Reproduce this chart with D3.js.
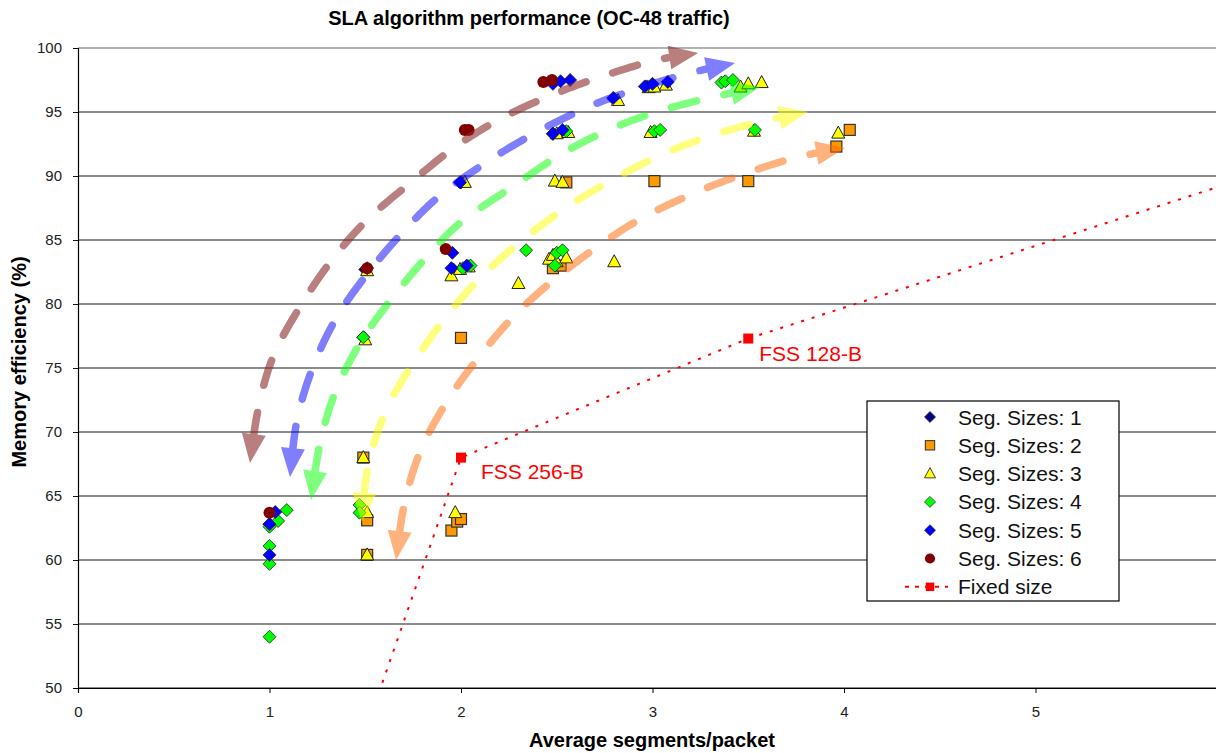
<html>
<head>
<meta charset="utf-8">
<style>
  body { margin: 0; background: #fff; }
  text { font-family: "Liberation Sans", Arial, sans-serif; }
</style>
</head>
<body>
<svg width="1216" height="753"></svg>
<script src="https://d3js.org/d3.v7.min.js"></script>
<script>
// series: [avg segments/packet, memory efficiency %]
var seriesNames = ["Seg. Sizes: 1", "Seg. Sizes: 2", "Seg. Sizes: 3", "Seg. Sizes: 4", "Seg. Sizes: 5", "Seg. Sizes: 6"]
var seg1 = [[1.0,62.8],[1.49,77.4],[1.5,82.7],[1.96,82.7],[2.0,89.5],[2.48,93.3],[2.8,96.0],[2.97,97.0]]
var seg2 = [[1.49,68.0],[1.51,63.1],[1.51,60.4],[1.95,62.3],[1.98,63.0],[2.0,63.2],[2.0,77.35],[2.48,82.8],[2.52,83.0],
            [2.55,89.5],[3.01,89.6],[3.5,89.6],[3.96,92.3],[4.03,93.6]]
var seg3 = [[1.49,68.0],[1.51,63.7],[1.51,60.4],[1.5,77.2],[1.51,82.6],[1.97,63.7],[1.95,82.2],[1.995,82.7],[2.04,82.9],
            [2.30,81.6],[2.46,83.5],[2.48,83.8],[2.5,83.3],[2.55,83.6],[2.80,83.3],[2.02,89.5],[2.49,89.6],[2.53,89.5],
            [2.5,93.3],[2.56,93.4],[2.99,93.4],[3.53,93.5],[2.82,95.9],[2.98,96.9],[3.01,96.95],[3.07,97.1],
            [3.46,96.95],[3.5,97.2],[3.57,97.3],[3.97,93.35]]
var seg4 = [[1.0,54.0],[1.0,59.7],[1.0,61.1],[1.0,62.6],[1.045,63.05],[1.09,63.9],[1.47,64.3],[1.47,63.7],[1.49,77.4],
            [2.01,82.8],[2.05,83.0],[2.34,84.2],[2.49,83.0],[2.5,84.0],[2.53,84.2],[2.55,93.5],[3.01,93.5],[3.04,93.6],
            [3.535,93.6],[3.36,97.3],[3.38,97.4],[3.42,97.5]]
var seg5 = [[1.0,60.4],[1.0,62.8],[1.03,63.75],[1.51,82.8],[1.955,84.0],[1.95,82.8],[2.03,83.0],[1.995,89.5],[2.48,93.3],
            [2.53,93.6],[2.48,97.2],[2.52,97.4],[2.57,97.5],[2.795,96.1],[2.96,97.0],[3.0,97.2],[3.08,97.35]]
var seg6 = [[1.0,63.7],[1.51,82.8],[1.92,84.3],[2.02,93.6],[2.04,93.6],[2.43,97.35],[2.475,97.5]]

// fixed segment size reference line
var fixedSize = [[1.4,42.3],[2.0,68.0],[3.5,77.3],[7.0,94.2]]
var fixedLabels = ["", "FSS 256-B", "FSS 128-B", ""]

// hand drawn trend arrows (data coords, from bottom end to top end)
var arrowBrown = [[0.898,67.58],[0.94,71.72],[1.018,75.86],[1.159,79.77],[1.326,83.44],[1.509,86.56],[1.734,89.45],
                  [1.969,92.27],[2.214,94.53],[2.475,96.33],[2.742,97.81],[3.023,99.06],[3.238,99.61]]
var arrowBlue = [[1.107,66.48],[1.144,70.94],[1.227,75.08],[1.352,78.98],[1.514,82.42],[1.692,85.55],[1.875,88.28],
                 [2.151,91.25],[2.397,93.44],[2.689,95.55],[2.919,96.8],[3.196,98.05],[3.431,98.83]]
var arrowGreen = [[1.217,64.69],[1.264,69.14],[1.342,73.05],[1.473,76.95],[1.645,80.55],[1.838,83.98],[1.995,86.33],
                  [2.282,89.3],[2.533,91.8],[2.794,93.75],[3.055,95.16],[3.316,96.17],[3.561,96.95]]
var arrowYellow = [[1.483,62.97],[1.504,66.41],[1.551,69.38],[1.629,72.34],[1.734,75.0],[1.901,78.59],[2.089,81.88],
                   [2.308,84.84],[2.538,87.42],[2.789,89.69],[3.044,91.64],[3.316,93.2],[3.582,94.3],[3.812,95.0]]
var arrowOrange = [[1.661,60.0],[1.702,64.22],[1.786,68.44],[1.922,72.27],[2.089,75.78],[2.282,79.14],[2.496,82.03],
                   [2.762,85.0],[2.966,86.88],[3.232,88.75],[3.504,90.31],[3.781,91.56],[4.005,92.19]]

var xTicks = [0, 1, 2, 3, 4, 5]
var yTicks = [50, 55, 60, 65, 70, 75, 80, 85, 90, 95, 100]

var svg = d3.select('svg')
var plotLeft = 78, plotRight = 1216, plotTop = 48, plotBottom = 688

var x = d3.scaleLinear().domain([0, 6]).range([78, 1227])
var y = d3.scaleLinear().domain([50, 100]).range([plotBottom, plotTop])

svg.append('clipPath').attr('id', 'plot')
  .append('rect').attr('x', plotLeft).attr('y', plotTop - 2)
  .attr('width', plotRight - plotLeft).attr('height', plotBottom - plotTop + 2)

// grid lines
svg.append('g').selectAll('line').data(yTicks).enter().append('line')
  .attr('x1', plotLeft).attr('x2', plotRight)
  .attr('y1', function (d) { return y(d) }).attr('y2', function (d) { return y(d) })
  .attr('stroke', function (d) { return d === 100 ? '#999' : '#666' })
  .attr('stroke-width', 1.5)

// axes
var yAxis = svg.append('g').attr('transform', 'translate(' + plotLeft + ',0)')
  .call(d3.axisLeft(y).tickValues(yTicks).tickSize(5).tickPadding(11))
var xAxis = svg.append('g').attr('transform', 'translate(0,' + plotBottom + ')')
  .call(d3.axisBottom(x).tickValues(xTicks).tickFormat(d3.format('d')).tickSize(5).tickPadding(13))
;[yAxis, xAxis].forEach(function (ax) {
  ax.select('.domain').attr('stroke', '#000').attr('stroke-width', 1.2)
  ax.selectAll('.tick line').attr('stroke', '#000')
  ax.selectAll('.tick text').attr('font-size', 15).attr('fill', '#222')
    .attr('font-family', '"Liberation Sans", Arial, sans-serif')
})

// marker shapes
function marker(sel, kind, fill) {
  if (kind === 'diamond') {
    sel.append('path').attr('d', 'M0,-6.5L6.5,0L0,6.5L-6.5,0Z').attr('fill', fill).attr('stroke', '#222').attr('stroke-width', 0.8)
  } else if (kind === 'square') {
    sel.append('rect').attr('x', -5.5).attr('y', -5.5).attr('width', 11).attr('height', 11)
      .attr('fill', fill).attr('stroke', '#333').attr('stroke-width', 1.2)
  } else if (kind === 'triangle') {
    sel.append('path').attr('d', 'M0,-7L6.5,5L-6.5,5Z').attr('fill', fill).attr('stroke', '#222').attr('stroke-width', 1)
  } else if (kind === 'circle') {
    sel.append('circle').attr('r', 6).attr('fill', fill)
  } else if (kind === 'fixed') {
    sel.append('rect').attr('x', -5).attr('y', -5).attr('width', 10).attr('height', 10).attr('fill', '#ff0000')
  }
}

var seriesList = [
  { data: seg1, kind: 'diamond', fill: '#000080' },
  { data: seg2, kind: 'square', fill: '#ff9900' },
  { data: seg3, kind: 'triangle', fill: '#ffff00' },
  { data: seg4, kind: 'diamond', fill: '#00ff00' },
  { data: seg5, kind: 'diamond', fill: '#0000ff' },
  { data: seg6, kind: 'circle', fill: '#800000' }
]

var plot = svg.append('g').attr('clip-path', 'url(#plot)')

// fixed size dotted line
plot.append('path')
  .attr('d', d3.line().x(function (d) { return x(d[0]) }).y(function (d) { return y(d[1]) })(fixedSize))
  .attr('fill', 'none').attr('stroke', '#ff0000').attr('stroke-width', 2).attr('stroke-dasharray', '3,8')
fixedSize.forEach(function (d) {
  var g = plot.append('g').attr('transform', 'translate(' + x(d[0]) + ',' + y(d[1]) + ')')
  marker(g, 'fixed')
})
var labelOffsets = [[0, 0], [20, 21], [11, 22], [0, 0]]
fixedSize.forEach(function (d, i) {
  if (!fixedLabels[i]) return
  plot.append('text').attr('x', x(d[0]) + labelOffsets[i][0]).attr('y', y(d[1]) + labelOffsets[i][1])
    .attr('font-size', 21).attr('fill', '#ff0000').text(fixedLabels[i])
})

seriesList.forEach(function (s) {
  s.data.forEach(function (d) {
    var g = plot.append('g').attr('transform', 'translate(' + x(d[0]) + ',' + y(d[1]) + ')')
    marker(g, s.kind, s.fill)
  })
})

// arrows
var curve = d3.line().x(function (d) { return x(d[0]) }).y(function (d) { return y(d[1]) })
  .curve(d3.curveCatmullRom.alpha(0.5))
var arrows = [
  { pts: arrowBrown, color: '#8c2a2a', op: 0.6 },
  { pts: arrowBlue, color: '#0000ff', op: 0.5 },
  { pts: arrowGreen, color: '#00ff00', op: 0.5 },
  { pts: arrowYellow, color: '#ffff00', op: 0.5 },
  { pts: arrowOrange, color: '#ff6600', op: 0.5 }
]
arrows.forEach(function (a) {
  var g = plot.append('g').attr('opacity', a.op)
  var tmp = g.append('path').attr('d', curve(a.pts)).attr('fill', 'none')
  var node = tmp.node()
  var L = node.getTotalLength()
  var head = 29, half = 12
  var pts = []
  for (var s = head - 4; s <= L - head + 4; s += 2) {
    var p = node.getPointAtLength(s)
    pts.push([p.x, p.y])
  }
  var ends = [[0, head], [L, L - head]].map(function (e) {
    return { t: node.getPointAtLength(e[0]), b: node.getPointAtLength(e[1]) }
  })
  tmp.remove()
  g.append('path').attr('d', d3.line()(pts)).attr('fill', 'none').attr('stroke', a.color)
    .attr('stroke-width', 7.5).attr('stroke-linecap', 'round').attr('stroke-dasharray', '26,28')
  ends.forEach(function (e) {
    var t = e.t, b = e.b
    var dx = t.x - b.x, dy = t.y - b.y, n = Math.sqrt(dx * dx + dy * dy)
    var px = -dy / n * half, py = dx / n * half
    g.append('path').attr('d', 'M' + t.x + ',' + t.y + 'L' + (b.x + px) + ',' + (b.y + py) + 'L' + (b.x - px) + ',' + (b.y - py) + 'Z')
      .attr('fill', a.color)
  })
})

// titles
svg.append('text').attr('x', 529).attr('y', 25).attr('text-anchor', 'middle')
  .attr('font-size', 20).attr('font-weight', 'bold').text('SLA algorithm performance (OC-48 traffic)')
svg.append('text').attr('x', 652).attr('y', 747).attr('text-anchor', 'middle')
  .attr('font-size', 20).attr('font-weight', 'bold').text('Average segments/packet')
svg.append('text').attr('transform', 'translate(26,362) rotate(-90)').attr('text-anchor', 'middle')
  .attr('font-size', 20).attr('font-weight', 'bold').text('Memory efficiency (%)')

// legend
var lg = svg.append('g')
lg.append('rect').attr('x', 867).attr('y', 401).attr('width', 252).attr('height', 200)
  .attr('fill', '#fff').attr('stroke', '#000').attr('stroke-width', 1.2)
var legendItems = seriesList.map(function (s, i) { return { name: seriesNames[i], kind: s.kind, fill: s.fill } })
legendItems.push({ name: 'Fixed size', kind: 'fixed' })
legendItems.forEach(function (it, i) {
  var cy = 417 + i * 28.3
  if (it.kind === 'fixed') {
    lg.append('line').attr('x1', 905).attr('x2', 948).attr('y1', cy).attr('y2', cy)
      .attr('stroke', '#ff0000').attr('stroke-width', 2).attr('stroke-dasharray', '4,6')
  }
  var g = lg.append('g').attr('transform', 'translate(930,' + cy + ') scale(0.85)')
  marker(g, it.kind, it.fill)
  lg.append('text').attr('x', 958).attr('y', cy).attr('dy', '0.36em')
    .attr('font-size', 21).attr('fill', '#111').text(it.name)
})
</script>
</body>
</html>
